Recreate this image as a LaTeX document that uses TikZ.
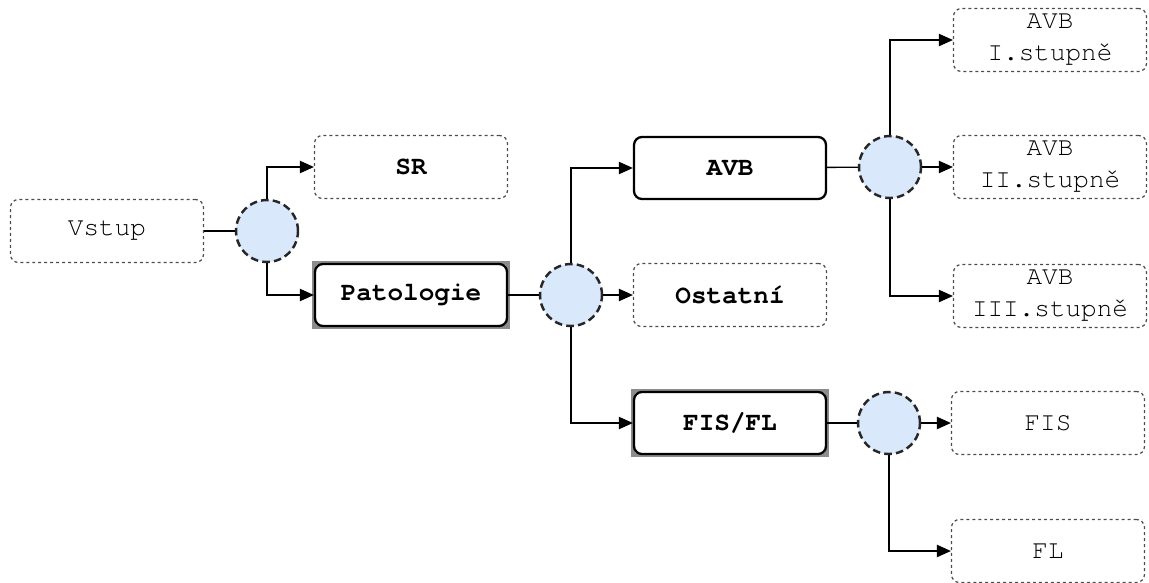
\documentclass[tikz,border=0pt]{standalone}
\usepackage{fontspec}
\setmonofont{TeX Gyre Cursor}
\usetikzlibrary{arrows.meta, backgrounds}
\definecolor{splitblue}{HTML}{DAE8FC}
\begin{document}
\begin{tikzpicture}[x=0.02cm, y=-0.02cm, >={Triangle[length=8pt, width=7pt]},
		font=\ttfamily\fontsize{14.8}{18.2}\selectfont,
		leaf/.style={draw=black!70, dash pattern=on 1.7pt off 1.7pt, line width=0.7pt, rounded corners=4.5pt,
			minimum width=3.86cm, minimum height=1.26cm, inner sep=0pt, align=center},
		strong/.style={draw=black, line width=1.3pt, rounded corners=4.5pt,
			minimum width=3.84cm, minimum height=1.24cm, inner sep=0pt, font=\ttfamily\bfseries\fontsize{14.8}{18.2}\selectfont},
		split/.style={circle, fill=splitblue, draw=black!85, dash pattern=on 4.3pt off 2.4pt, line width=1.4pt,
			minimum size=1.24cm, inner sep=0pt},
		link/.style={line width=0.75pt}]
	\useasboundingbox (0,0) rectangle (1149,582);
	
	\node[leaf] (vstup) at (107,231) {Vstup};
	\node[split] (s1) at (267,231) {};
	\node[leaf, font=\ttfamily\bfseries\fontsize{14.8}{18.2}\selectfont] (sr) at (411,167) {SR};
	\node[strong] (pat) at (411,295) {Patologie};
	\node[split] (s2) at (571,295) {};
	\node[strong] (avb) at (730,168) {AVB};
	\node[leaf, font=\ttfamily\bfseries\fontsize{14.8}{18.2}\selectfont] (ost) at (730,295) {Ostatní};
	\node[strong] (fisfl) at (730,423) {FIS/FL};
	\node[split] (s3) at (890,167) {};
	\node[split] (s4) at (889,423) {};
	\node[leaf] (avb1) at (1050,40) {AVB\\I.stupně};
	\node[leaf] (avb2) at (1050,167) {AVB\\II.stupně};
	\node[leaf] (avb3) at (1050,296) {AVB\\III.stupně};
	\node[leaf] (fis) at (1048,423) {FIS};
	\node[leaf] (fl) at (1048,551) {FL};
	
	% grey frames
	\begin{scope}[on background layer]
		\foreach \n in {pat, fisfl}
			\draw[black!45, line width=2pt] (\n.north west) rectangle (\n.south east);
	\end{scope}
	
	\draw[link] (vstup) -- (s1);
	\draw[link, ->] (s1.north) |- (sr.west);
	\draw[link, ->] (s1.south) |- (pat.west);
	\draw[link] (pat) -- (s2);
	\draw[link, ->] (s2.north) |- (avb.west);
	\draw[link, ->] (s2.east) -- (ost.west);
	\draw[link, ->] (s2.south) |- (fisfl.west);
	\draw[link] (avb) -- (s3);
	\draw[link, ->] (s3.north) |- (avb1.west);
	\draw[link, ->] (s3.east) -- (avb2.west);
	\draw[link, ->] (s3.south) |- (avb3.west);
	\draw[link] (fisfl) -- (s4);
	\draw[link, ->] (s4.east) -- (fis.west);
	\draw[link, ->] (s4.south) |- (fl.west);
\end{tikzpicture}
\end{document}
